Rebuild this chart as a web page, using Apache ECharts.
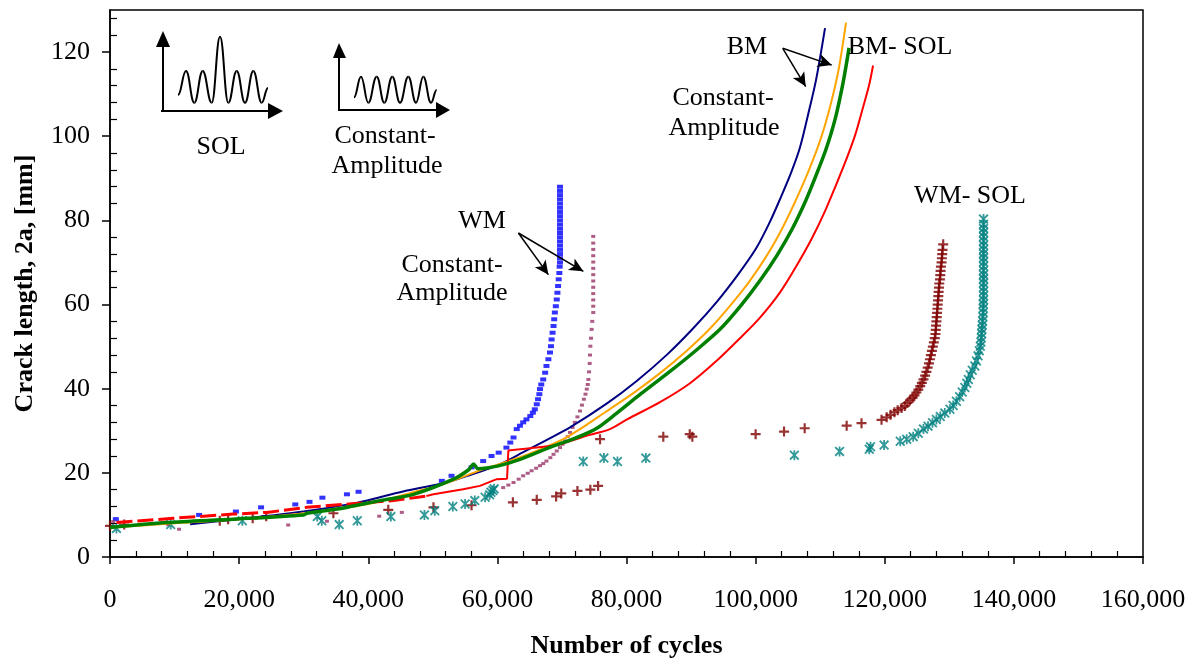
<!DOCTYPE html>
<html>
<head>
<meta charset="UTF-8">
<title>Crack length vs number of cycles</title>
<script src="https://cdn.jsdelivr.net/npm/echarts@6/dist/echarts.min.js"></script>
<style>
  body { margin: 0; padding: 0; background: #fff; }
  #chart { width: 1201px; height: 664px; }
</style>
</head>
<body>
<div id="chart"></div>
<script>
// tick values
const xMajorTicks = [0, 20000, 40000, 60000, 80000, 100000, 120000, 140000, 160000];
const xMinorTicks = [4000, 8000, 12000, 16000, 24000, 28000, 32000, 36000, 44000, 48000, 52000, 56000,
  64000, 68000, 72000, 76000, 84000, 88000, 92000, 96000, 104000, 108000, 112000, 116000,
  124000, 128000, 132000, 136000, 144000, 148000, 152000, 156000];
const yMajorTicks = [0, 20, 40, 60, 80, 100, 120];
const yMinorTicks = [4, 8, 12, 16, 24, 28, 32, 36, 44, 48, 52, 56, 64, 68, 72, 76, 84, 88, 92, 96,
  104, 108, 112, 116, 124, 128];

// BM constant amplitude (navy, orange)
const bmCaNavy = [[12400, 7.8], [20000, 9.0], [30000, 10.8], [38000, 12.8], [41800, 14.2], [46000, 15.8],
  [52100, 17.7], [56000, 19.6], [59900, 21.7], [64000, 24.9], [67600, 27.8], [71250, 30.8], [76980, 36.5],
  [81630, 41.9], [86280, 48.1], [90300, 54.3], [94020, 60.7], [97270, 67.1], [100060, 73.3], [102230, 79.7],
  [103930, 85.6], [105480, 91.3], [106880, 97.4], [108120, 105.1], [109360, 113.4], [110750, 125.7]];
const bmCaOrange = [[0, 7.0], [10000, 8.0], [20000, 9.0], [30000, 10.4], [40000, 12.6], [47000, 15.4],
  [52000, 17.5], [57300, 20.6], [61000, 22.4], [65100, 24.6], [70200, 28.0], [72800, 30.4], [76670, 34.4],
  [81010, 38.9], [85190, 43.7], [89380, 49.1], [92940, 54.3], [96190, 60.0], [99130, 65.7], [101920, 72.1],
  [104250, 78.5], [106260, 84.9], [108270, 92.0], [110130, 99.6], [111680, 107.9], [112920, 116.4], [114000, 127.0]];

// BM SOL (green, red)
const bmSolGreen = [[0, 7.0], [8800, 8.2], [19100, 9.0], [30000, 10.0], [30500, 10.4], [36000, 11.6],
  [41800, 13.4], [47000, 14.9], [53200, 18.5], [55600, 20.8], [56300, 22.1], [57000, 21.0], [60000, 21.6],
  [63500, 23.2], [68700, 26.4], [72000, 28.2], [75400, 30.6], [78500, 34.2], [82250, 38.8], [86740, 44.1],
  [90610, 48.9], [94480, 54.1], [97740, 59.8], [100680, 65.7], [103310, 71.7], [105640, 77.9], [107650, 84.3],
  [109360, 90.7], [110900, 96.9], [112300, 104.0], [113540, 112.7], [114470, 121.0]];
const bmSolRedStart = [[1000, 8.2], [9800, 9.2], [19100, 10.2], [24300, 10.6], [30500, 11.8], [37000, 12.6],
  [43900, 13.4], [49000, 14.5]];
const bmSolRedMid = [[49000, 14.5], [50100, 14.9], [54700, 16.1], [57300, 16.9], [59900, 18.5], [61500, 18.6],
  [61700, 25.3], [63500, 25.6]];
const bmSolRed = [[63500, 25.6], [66100, 26.0], [69700, 26.8], [73800, 28.8], [77450, 30.4], [80080, 32.7],
  [85190, 36.8], [89840, 41.3], [93870, 46.5], [97580, 52.0], [100680, 56.9], [103780, 62.9], [106410, 69.4],
  [108740, 75.8], [110750, 82.2], [112450, 88.4], [114000, 94.3], [115400, 100.2], [116640, 106.9],
  [117570, 112.1], [118190, 116.8]];

// WM constant amplitude (blue, purple markers)
const wmCaBlue = [[900, 9.0], [13800, 10.0], [19500, 10.8], [23400, 11.8], [28700, 12.5], [30900, 13.1],
  [32900, 14.1], [36700, 14.9], [38500, 15.5], [51400, 18.1], [52900, 19.3], [56000, 21.3], [57800, 22.8],
  [59100, 24.0], [60200, 24.8], [61400, 26.0], [62000, 27.2], [62500, 28.4], [63000, 30.4], [63500, 31.2],
  [64000, 32.0], [64500, 32.7], [65100, 33.5], [65500, 34.3], [65800, 35.1], [66100, 36.3], [66300, 37.5],
  [66500, 38.7], [66600, 39.9], [66800, 41.0], [67100, 42.2], [67400, 43.8], [67600, 45.4], [67900, 47.0],
  [68150, 48.6], [68300, 50.1], [68400, 51.7], [68550, 53.3], [68700, 54.9], [68800, 56.5], [68900, 58.1],
  [69050, 59.6], [69200, 61.2], [69300, 62.8], [69400, 64.4], [69500, 66.0], [69600, 67.5], [69650, 69.0],
  [69700, 70.0], [69700, 71.0], [69700, 72.0], [69700, 73.0], [69700, 74.0], [69700, 75.0], [69700, 76.0],
  [69700, 77.0], [69700, 78.0], [69700, 79.0], [69700, 80.0], [69700, 81.0], [69700, 82.0], [69700, 83.0],
  [69700, 84.0], [69700, 85.0], [69700, 86.0], [69700, 87.0], [69700, 88.0]];
const wmCaPurple = [[500, 8.4], [9000, 7.7], [10700, 6.6], [27600, 7.6], [33600, 8.5], [41700, 9.7],
  [45200, 10.6], [60900, 16.5], [61700, 17.1], [62500, 17.7], [63300, 18.5], [64000, 19.3], [64700, 19.9],
  [65300, 20.5], [66000, 21.1], [66600, 21.7], [67100, 22.2], [67600, 22.8], [68200, 23.6], [68700, 24.4],
  [69200, 25.2], [69700, 26.0], [70100, 26.8], [70500, 27.6], [70900, 28.6], [71250, 29.6], [71650, 30.8],
  [72000, 32.0], [72400, 33.3], [72800, 34.7], [73100, 36.1], [73400, 37.5], [73650, 38.7], [73850, 39.9],
  [74000, 41.0], [74100, 42.2], [74200, 44.0], [74300, 46.0], [74350, 48.0], [74400, 50.1], [74500, 52.0],
  [74600, 54.1], [74700, 56.0], [74850, 58.1], [74850, 59.6], [74850, 61.1], [74850, 62.6], [74850, 64.1],
  [74850, 65.6], [74850, 67.1], [74850, 68.6], [74850, 70.1], [74850, 71.6], [74850, 73.1], [74850, 74.6], [74850, 76.2]];

// WM SOL (dark red plus, teal asterisk)
const wmSolPlus = [[0, 7.4], [2200, 7.7], [17000, 8.6], [18300, 9.0], [22100, 9.2], [24200, 9.7], [34600, 10.4],
  [43100, 11.2], [50100, 11.8], [56000, 12.3], [62400, 13.0], [66100, 13.6], [69100, 14.4], [69900, 15.1],
  [72400, 15.7], [74400, 16.0], [75600, 16.9], [75900, 28.0], [85700, 28.6], [89800, 29.2], [90200, 28.6],
  [100000, 29.2], [104400, 29.8], [107600, 30.6], [114100, 31.2], [116400, 31.8], [119500, 32.6], [120300, 33.2],
  [120900, 33.8], [121500, 34.4], [122000, 34.9], [122600, 35.4], [123100, 35.9], [123500, 36.6], [123900, 37.2],
  [124300, 37.8], [124600, 38.4], [124900, 39.1], [125200, 39.8], [125500, 40.6], [125750, 41.4], [126000, 42.2],
  [126250, 43.1], [126450, 44.0], [126650, 45.0], [126850, 46.0], [127000, 47.0], [127150, 48.0], [127300, 49.0],
  [127450, 50.0], [127600, 51.0], [127750, 52.0], [127850, 53.0], [127900, 54.0], [127950, 55.0], [128000, 56.0],
  [128050, 57.0], [128100, 58.0], [128150, 59.0], [128200, 60.0], [128250, 61.0], [128300, 62.0], [128350, 63.0],
  [128400, 64.0], [128450, 65.0], [128550, 66.0], [128600, 67.0], [128650, 68.0], [128700, 69.0], [128800, 70.0],
  [128850, 71.0], [128900, 72.0], [128950, 73.0], [129050, 74.3]];
const wmSolStar = [[1000, 6.8], [9400, 7.7], [20500, 8.6], [32100, 9.6], [32800, 8.6], [35500, 7.7], [38300, 8.6],
  [43500, 9.6], [48700, 10.0], [50300, 11.0], [53100, 12.0], [55000, 12.6], [56500, 13.4], [58100, 14.2],
  [58800, 14.8], [59000, 15.4], [59300, 15.8], [59500, 16.2], [73300, 22.7], [76500, 23.5], [78600, 22.7],
  [83000, 23.5], [106000, 24.2], [113000, 25.1], [117600, 25.6], [117800, 26.2], [119900, 26.6], [122400, 27.5],
  [123400, 28.0], [124400, 28.6], [125200, 29.4], [126000, 30.4], [126700, 31.1], [127400, 31.9], [128000, 32.7],
  [128600, 33.4], [129300, 34.2], [130100, 35.1], [130600, 36.0], [131100, 37.0], [131600, 38.1], [132000, 39.2],
  [132400, 40.3], [132700, 41.3], [132950, 42.2], [133250, 43.3], [133550, 44.4], [133950, 45.4], [134200, 46.6],
  [134450, 47.8], [134650, 49.0], [134800, 50.1], [134900, 51.1], [134950, 52.1], [135000, 53.1], [135050, 54.1],
  [135100, 55.1], [135150, 56.1], [135200, 57.1], [135250, 58.1], [135250, 59.1], [135250, 60.1], [135300, 61.1],
  [135300, 62.1], [135300, 63.1], [135300, 64.1], [135300, 65.1], [135300, 66.1], [135300, 67.1], [135300, 68.1],
  [135300, 69.1], [135300, 70.1], [135300, 71.1], [135300, 72.1], [135300, 73.1], [135300, 74.1], [135300, 75.1],
  [135300, 76.1], [135300, 77.1], [135300, 78.1], [135300, 79.1], [135300, 80.3]];

// annotation arrows [from, to] in data coordinates
const bmArrows = [[[104200, 120.9], [107760, 111.8]], [[104200, 120.9], [111790, 116.9]]];
const wmArrows = [[[63250, 77.0], [67900, 67.1]], [[63250, 77.0], [73310, 67.9]]];

const FONT = '"Liberation Serif", "Times New Roman", serif';
const plusPath = 'path://M3.9,0h2.2v3.9h3.9v2.2h-3.9v3.9h-2.2v-3.9h-3.9v-2.2h3.9z';
const starPath = 'path://M4.1,0L5.9,0L5.9,10L4.1,10Z M0,1.3L1.3,0L10,8.7L8.7,10Z M8.7,0L10,1.3L1.3,10L0,8.7Z';

// little inset sketches of the load spectra (peaks and troughs, pixels)
const solWave = [[178, 95], [186, 71], [194.3, 102.7], [202.7, 71], [211.7, 102.7], [220, 36.7], [228.3, 102.7],
  [236.7, 71], [245, 102.7], [253.3, 71], [261.7, 102.7], [268, 88]];
const caWave = [[354, 97.3], [361, 76.7], [368.3, 102.7], [376.7, 76.7], [384.3, 102.7], [392.3, 76.7],
  [400, 102.7], [408.3, 76.7], [416, 102.7], [423.3, 76.7], [431, 102.7], [436.7, 90]];

function waveCurves(pts) {
  const out = [];
  for (let i = 1; i < pts.length; i++) {
    const [x0, y0] = pts[i - 1], [x1, y1] = pts[i];
    const dx = (x1 - x0) * 0.45;
    out.push({ type: 'bezierCurve', z: 100,
      shape: { x1: x0, y1: y0, cpx1: x0 + dx, cpy1: y0, cpx2: x1 - dx, cpy2: y1, x2: x1, y2: y1 },
      style: { stroke: '#000', lineWidth: 2, fill: null } });
  }
  return out;
}
function txt(text, x, y, bold) {
  return { type: 'text', x: x, y: y, z: 100,
    style: { text: text, font: (bold ? 'bold ' : '') + '26px ' + FONT, fill: '#000', align: 'center', verticalAlign: 'middle' } };
}
function seg(x1, y1, x2, y2) {
  return { type: 'line', z: 100, shape: { x1: x1, y1: y1, x2: x2, y2: y2 }, style: { stroke: '#000', lineWidth: 2 } };
}
function tri(points) {
  return { type: 'polygon', z: 100, shape: { points: points }, style: { fill: '#000' } };
}
function arrowLines(arr) {
  return arr.map(a => [{ coord: a[0] }, { coord: a[1] }]);
}

const chart = echarts.init(document.getElementById('chart'));

const option = {
  animation: false,
  backgroundColor: '#fff',
  grid: { left: 110, right: 58, top: 10, bottom: 106, show: true, borderColor: '#000', borderWidth: 1.5, backgroundColor: 'transparent' },
  xAxis: [{
    type: 'value', min: 0, max: 160000, interval: 20000, position: 'bottom',
    name: 'Number of cycles', nameLocation: 'middle', nameGap: 76,
    nameTextStyle: { fontFamily: FONT, fontSize: 26, fontWeight: 'bold', color: '#000' },
    axisLine: { show: true, lineStyle: { color: '#000', width: 1.5 } },
    axisTick: { show: true, inside: false, length: 7, customValues: xMajorTicks, lineStyle: { color: '#000', width: 1.5 } },
    axisLabel: { margin: 30, fontFamily: FONT, fontSize: 26, color: '#000', customValues: xMajorTicks,
      formatter: v => v.toLocaleString('en-US') },
    splitLine: { show: false }
  }, {
    type: 'value', min: 0, max: 160000, position: 'bottom',
    axisLine: { show: false },
    axisTick: { show: true, inside: true, length: 6, customValues: xMinorTicks, lineStyle: { color: '#000', width: 1.2 } },
    axisLabel: { show: false },
    splitLine: { show: false }
  }],
  yAxis: [{
    type: 'value', min: 0, max: 130, interval: 20, position: 'left',
    name: 'Crack length, 2a, [mm]', nameLocation: 'middle', nameGap: 72, nameRotate: 90,
    nameTextStyle: { fontFamily: FONT, fontSize: 26, fontWeight: 'bold', color: '#000' },
    axisLine: { show: true, lineStyle: { color: '#000', width: 1.5 } },
    axisTick: { show: true, inside: false, length: 8, customValues: yMajorTicks, lineStyle: { color: '#000', width: 1.5 } },
    axisLabel: { margin: 20, fontFamily: FONT, fontSize: 26, color: '#000', customValues: yMajorTicks },
    splitLine: { show: false }
  }, {
    type: 'value', min: 0, max: 130, position: 'left',
    axisLine: { show: false },
    axisTick: { show: true, inside: true, length: 7, customValues: yMinorTicks, lineStyle: { color: '#000', width: 1.2 } },
    axisLabel: { show: false },
    splitLine: { show: false }
  }],
  series: [
    { name: 'BM CA 1', type: 'line', data: bmCaNavy, showSymbol: false, smooth: 0.3,
      lineStyle: { color: '#000080', width: 2 } },
    { name: 'BM CA 2', type: 'line', data: bmCaOrange, showSymbol: false, smooth: 0.3,
      lineStyle: { color: '#FFA500', width: 2 } },
    { name: 'BM SOL 2 start', type: 'line', data: bmSolRedStart, showSymbol: false,
      lineStyle: { color: '#FF0000', width: 3, type: [16, 5] } },
    { name: 'BM SOL 2 mid', type: 'line', data: bmSolRedMid, showSymbol: false,
      lineStyle: { color: '#FF0000', width: 2 } },
    { name: 'BM SOL 2', type: 'line', data: bmSolRed, showSymbol: false, smooth: 0.3,
      lineStyle: { color: '#FF0000', width: 2 } },
    { name: 'WM CA 1', type: 'scatter', data: wmCaBlue, symbol: 'rect', symbolSize: [6, 4],
      itemStyle: { color: '#0000FF' } },
    { name: 'WM CA 2', type: 'scatter', data: wmCaPurple, symbol: 'rect', symbolSize: [4, 3],
      itemStyle: { color: '#993366' } },
    { name: 'BM SOL 1', type: 'line', data: bmSolGreen, showSymbol: false, smooth: 0.3,
      lineStyle: { color: '#008000', width: 3.5 } },
    { name: 'WM SOL 1', type: 'scatter', data: wmSolPlus, symbol: plusPath, symbolSize: 10,
      itemStyle: { color: '#800000' } },
    { name: 'WM SOL 2', type: 'scatter', data: wmSolStar, symbol: starPath, symbolSize: 10,
      itemStyle: { color: '#008080' } },
    { name: 'arrows', type: 'line', data: [], silent: true,
      markLine: { silent: true, symbol: ['none', 'arrow'], symbolSize: [10, 14], label: { show: false },
        lineStyle: { color: '#000', width: 1.5, type: 'solid' },
        data: arrowLines(bmArrows).concat(arrowLines(wmArrows)) } }
  ],
  graphic: [
    txt('BM', 747, 47), txt('Constant-', 723, 98), txt('Amplitude', 724, 128),
    txt('BM- SOL', 900, 47),
    txt('WM', 482, 221), txt('Constant-', 452, 265), txt('Amplitude', 452, 293),
    txt('WM- SOL', 970, 196),
    txt('SOL', 221, 147), txt('Constant-', 385, 136), txt('Amplitude', 387, 166),
    seg(163, 112, 163, 45), tri([[156, 47], [170, 47], [163, 31]]),
    seg(161, 111, 270, 111), tri([[268, 103], [268, 119], [283, 111]]),
    seg(339, 111, 339, 56), tri([[333, 58], [346, 58], [339, 43]]),
    seg(339, 110, 438, 110), tri([[436, 102], [436, 118], [450, 110]])
  ].concat(waveCurves(solWave), waveCurves(caWave))
};

chart.setOption(option);
</script>
</body>
</html>
